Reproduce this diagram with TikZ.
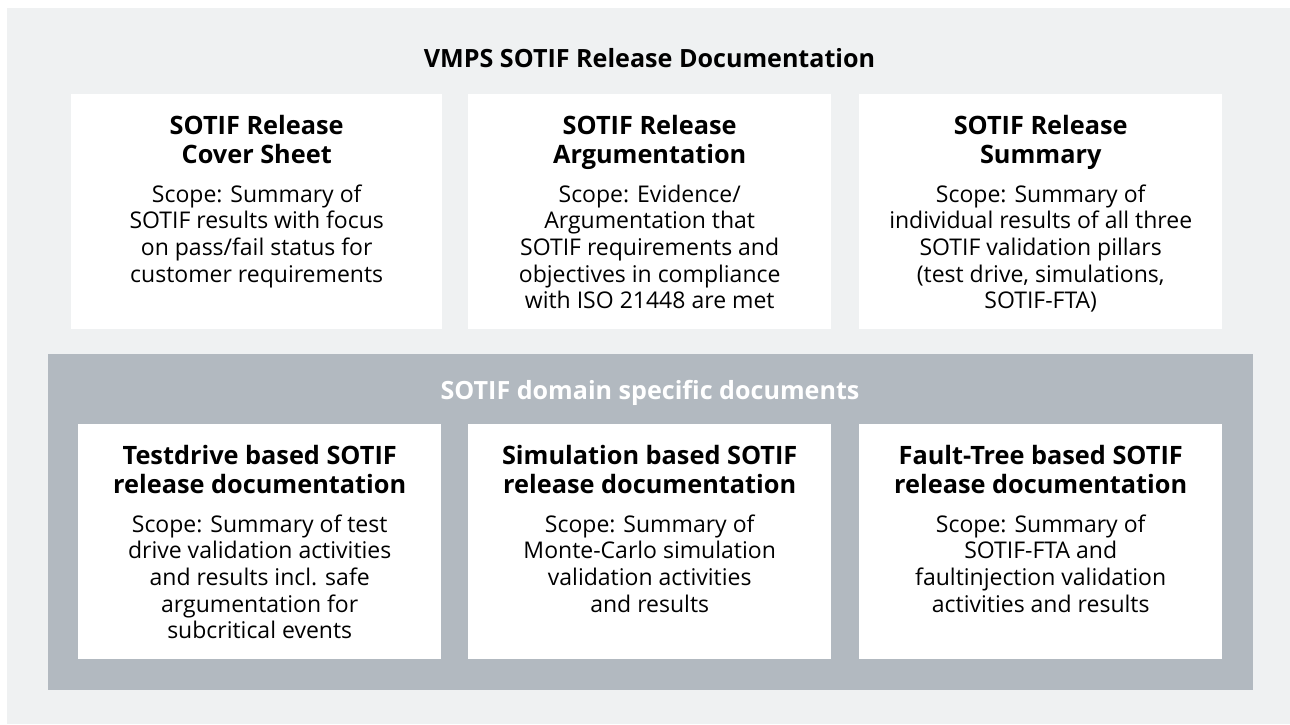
\documentclass[tikz,border=0pt]{standalone}
\usepackage{fontspec}
\setmainfont{Open Sans}
\definecolor{pagebg}{HTML}{EFF1F2}
\definecolor{groupbg}{HTML}{B2B9C0}
% centred lines whose reference point is the first baseline
\newcommand{\stack}[1]{\begin{tabular}[t]{@{}c@{}}#1\end{tabular}}
\begin{document}
\begin{tikzpicture}[x=1pt,y=-1pt,
  docbox/.style={fill=white, draw=none, anchor=north west, inner sep=0pt},
  head/.style={anchor=base, inner sep=0pt, font=\fontsize{25.3}{29}\selectfont\bfseries},
  body/.style={anchor=base, inner sep=0pt, font=\fontsize{23}{26.7}\selectfont},
  title/.style={anchor=base, inner sep=0pt, font=\fontsize{25.1}{29}\selectfont\bfseries}]
\useasboundingbox (0,0) rectangle (1290,724);
\fill[pagebg] (7,8) rectangle (1290,724);
% main title
\node[title] (maintitle) at (649.5,67.3) {VMPS SOTIF Release Documentation};
% upper row of release documents
\node[docbox, minimum width=371pt, minimum height=235pt] (cover) at (71,94) {};
\node[docbox, minimum width=363pt, minimum height=235pt] (arg) at (468,94) {};
\node[docbox, minimum width=363pt, minimum height=235pt] (summ) at (859,94) {};
\node[head] (coverh) at ([yshift=-40pt]cover.north) {\stack{SOTIF Release\\Cover Sheet}};
\node[body] (coverb) at ([yshift=-108pt]cover.north) {\stack{Scope: Summary of\\SOTIF results with focus\\on pass/fail status for\\customer requirements}};
\node[head] (argh) at ([yshift=-40pt]arg.north) {\stack{SOTIF Release\\Argumentation}};
\node[body] (argb) at ([yshift=-108pt]arg.north) {\stack{Scope: Evidence/\\Argumentation that\\SOTIF requirements and\\objectives in compliance\\with ISO 21448 are met}};
\node[head] (summh) at ([yshift=-40pt]summ.north) {\stack{SOTIF Release\\Summary}};
\node[body] (summb) at ([yshift=-108pt]summ.north) {\stack{Scope: Summary of\\individual results of all three\\SOTIF validation pillars\\(test drive, simulations,\\SOTIF-FTA)}};
% domain specific group
\node[fill=groupbg, anchor=north west, inner sep=0pt, minimum width=1205pt, minimum height=336pt] (group) at (48,354) {};
\node[title, text=white] (grouptitle) at (650,399.3) {SOTIF domain specific documents};
\node[docbox, minimum width=363pt, minimum height=235pt] (drive) at (78,424) {};
\node[docbox, minimum width=363pt, minimum height=235pt] (sim) at (468,424) {};
\node[docbox, minimum width=363pt, minimum height=235pt] (fta) at (859,424) {};
\node[head] (driveh) at ([yshift=-40pt]drive.north) {\stack{Testdrive based SOTIF\\release documentation}};
\node[body] (driveb) at ([yshift=-108pt]drive.north) {\stack{Scope: Summary of test\\drive validation activities\\and results incl. safe\\argumentation for\\subcritical events}};
\node[head] (simh) at ([yshift=-40pt]sim.north) {\stack{Simulation based SOTIF\\release documentation}};
\node[body] (simb) at ([yshift=-108pt]sim.north) {\stack{Scope: Summary of\\Monte-Carlo simulation\\validation activities\\and results}};
\node[head] (ftah) at ([yshift=-40pt]fta.north) {\stack{Fault-Tree based SOTIF\\release documentation}};
\node[body] (ftab) at ([yshift=-108pt]fta.north) {\stack{Scope: Summary of\\SOTIF-FTA and\\faultinjection validation\\activities and results}};
\end{tikzpicture}
\end{document}
